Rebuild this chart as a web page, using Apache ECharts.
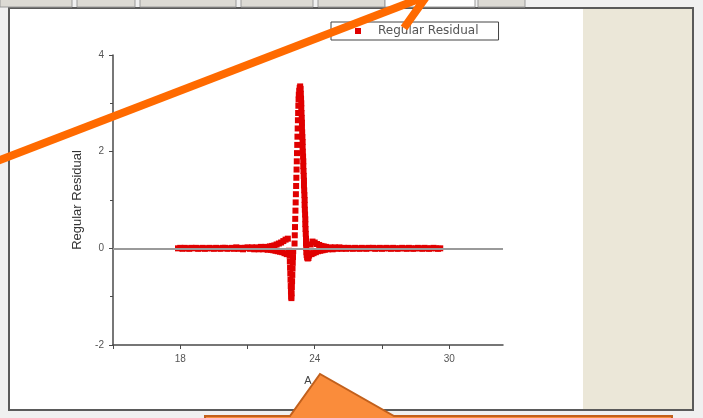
<!DOCTYPE html>
<html>
<head>
<meta charset="utf-8">
<script src="https://cdn.jsdelivr.net/npm/echarts@6/dist/echarts.min.js"></script>
<style>html,body{margin:0;padding:0;background:#f0f0f0}#c{width:703px;height:418px}</style>
</head>
<body>
<div id="c"></div>
<script>
// ---- data (x, regular residual) ----
const seriesName = 'Regular Residual';
const xTickLabels = [18, 24, 30];
const yTickLabels = [-2, 0, 2, 4];
const leftTail = [[17.9,0.00],[18.0,0.01],[18.1,-0.01],[18.2,0.01],[18.3,0.00],[18.4,-0.01],[18.5,0.01],[18.6,0.00],[18.7,0.01],[18.8,-0.01],[18.9,0.00],[19.0,0.01],[19.1,-0.01],[19.2,0.00],[19.3,0.01],[19.4,0.00],[19.5,-0.01],[19.6,0.01],[19.7,0.00],[19.8,-0.01],[19.9,0.01],[20.0,0.01],[20.1,-0.01],[20.2,0.00],[20.3,0.01],[20.4,-0.01],[20.5,0.02],[20.6,-0.01],[20.7,0.01],[20.8,-0.02],[20.9,0.01],[21.0,0.02],[21.1,-0.01],[21.2,0.02],[21.3,-0.02],[21.4,0.02],[21.5,-0.02],[21.6,0.03],[21.7,-0.02],[21.8,0.03],[21.9,-0.03],[22.0,0.04]];
const nearPeakLeft = [[22.05,-0.03],[22.1,0.05],[22.15,-0.04],[22.2,0.06],[22.25,-0.05],[22.3,0.08],[22.35,-0.06],[22.4,0.1],[22.45,-0.07],[22.5,0.12],[22.55,-0.08],[22.6,0.15],[22.65,-0.1],[22.7,0.18],[22.75,-0.12],[22.8,0.2],[22.85,-0.05]];
const dip = [[22.88,-0.15],[22.89,-0.27],[22.9,-0.4],[22.91,-0.52],[22.92,-0.65],[22.93,-0.78],[22.94,-0.9],[22.95,-1.0],[22.96,-1.03],[22.97,-0.93],[22.98,-0.8],[22.99,-0.68],[23.0,-0.55],[23.01,-0.42],[23.02,-0.3],[23.03,-0.18],[23.04,-0.06]];
const spikeRise = [[23.1,0.1],[23.11,0.27],[23.12,0.44],[23.13,0.61],[23.14,0.78],[23.15,0.95],[23.16,1.12],[23.17,1.29],[23.18,1.46],[23.19,1.63],[23.2,1.8],[23.21,1.97],[23.22,2.14],[23.23,2.31],[23.24,2.48],[23.25,2.65],[23.26,2.8],[23.27,2.95],[23.28,3.08],[23.29,3.18],[23.31,3.26],[23.33,3.32],[23.35,3.35]];
const spikeFall = [[23.37,3.3],[23.38,3.2],[23.39,3.1],[23.40,3.0],[23.40,2.9],[23.41,2.8],[23.42,2.7],[23.43,2.6],[23.43,2.5],[23.44,2.4],[23.45,2.3],[23.46,2.2],[23.46,2.1],[23.47,2.0],[23.48,1.9],[23.49,1.8],[23.49,1.7],[23.50,1.6],[23.51,1.5],[23.52,1.4],[23.52,1.3],[23.53,1.2],[23.54,1.1],[23.55,1.0],[23.55,0.9],[23.56,0.8],[23.57,0.7],[23.58,0.6],[23.58,0.5],[23.59,0.4],[23.60,0.3],[23.61,0.2],[23.61,0.1],[23.62,0.0],[23.63,-0.08],[23.64,-0.14],[23.66,-0.19],[23.69,-0.21],[23.72,-0.2],[23.75,-0.15]];
const nearPeakRight = [[23.78,-0.1],[23.82,0.08],[23.86,-0.12],[23.9,0.14],[23.95,-0.1],[24.0,0.12],[24.05,-0.08],[24.1,0.09],[24.15,-0.06],[24.2,0.07],[24.25,-0.05],[24.3,0.05],[24.35,-0.04],[24.4,0.04],[24.45,-0.03]];
const rightTail = [[24.5,0.03],[24.6,-0.02],[24.7,0.02],[24.8,-0.02],[24.9,0.02],[25.0,-0.01],[25.1,0.02],[25.2,-0.01],[25.3,0.01],[25.4,-0.01],[25.5,0.01],[25.6,0.00],[25.7,-0.01],[25.8,0.01],[25.9,0.00],[26.0,-0.01],[26.1,0.01],[26.2,0.00],[26.3,-0.01],[26.4,0.01],[26.5,0.00],[26.6,0.01],[26.7,-0.01],[26.8,0.00],[26.9,0.01],[27.0,-0.01],[27.1,0.00],[27.2,0.01],[27.3,0.00],[27.4,-0.01],[27.5,0.01],[27.6,0.00],[27.7,-0.01],[27.8,0.00],[27.9,0.01],[28.0,0.00],[28.1,-0.01],[28.2,0.01],[28.3,0.00],[28.4,-0.01],[28.5,0.00],[28.6,0.01],[28.7,0.00],[28.8,-0.01],[28.9,0.01],[29.0,0.00],[29.1,-0.01],[29.2,0.00],[29.3,0.01],[29.4,0.00],[29.5,-0.01],[29.6,0.00]];

const allPoints = [].concat(leftTail, nearPeakLeft, dip, spikeRise, spikeFall, nearPeakRight, rightTail);

const chart = echarts.init(document.getElementById('c'), null, {renderer: 'canvas'});
const labelFont = {fontFamily: 'Liberation Sans', fontSize: 10, color: '#555'};

chart.setOption({
  backgroundColor: '#f0f0f0',
  animation: false,
  grid: {left: 113, right: 200, top: 55, bottom: 73},
  legend: {
    data: [seriesName], left: 331, top: 22, icon: 'rect', itemWidth: 6, itemHeight: 6,
    borderColor: '#444', borderWidth: 1, backgroundColor: '#fff',
    padding: [3, 20, 3, 24],
    textStyle: {fontFamily: 'DejaVu Sans', fontSize: 12, color: '#555', padding: [0, 0, 0, 12]}
  },
  xAxis: {
    type: 'value', min: 15, max: 32.4, interval: 3,
    name: 'A', nameLocation: 'middle', nameGap: 30,
    nameTextStyle: {fontFamily: 'Liberation Sans', fontSize: 11, color: '#444'},
    axisLine: {onZero: false, lineStyle: {color: '#4a4a4a', width: 1.5}},
    axisTick: {length: 4, lineStyle: {color: '#4a4a4a'}},
    axisLabel: Object.assign({margin: 9, formatter: v => xTickLabels.indexOf(v) >= 0 ? String(v) : '', showMaxLabel: false}, labelFont),
    splitLine: {show: false}
  },
  yAxis: {
    type: 'value', min: -2, max: 4, interval: 2,
    name: seriesName, nameLocation: 'middle', nameGap: 27,
    nameTextStyle: {fontFamily: 'Liberation Sans', fontSize: 13, color: '#333'},
    axisLine: {onZero: false, lineStyle: {color: '#4a4a4a', width: 1.5}},
    axisTick: {length: 4, lineStyle: {color: '#4a4a4a'}},
    minorTick: {show: true, splitNumber: 2, length: 3, lineStyle: {color: '#4a4a4a'}},
    axisLabel: Object.assign({margin: 9, formatter: v => yTickLabels.indexOf(v) >= 0 ? String(v) : ''}, labelFont),
    splitLine: {show: false}
  },
  series: [
    {
      type: 'scatter', name: 'zero', data: [], z: 1, silent: true,
      markLine: {silent: true, symbol: 'none', label: {show: false},
        lineStyle: {color: '#9a9a9a', width: 2, type: 'solid'}, data: [{yAxis: 0}]}
    },
    {
      type: 'scatter', name: seriesName, data: allPoints, z: 3,
      symbol: 'rect', symbolSize: 6,
      itemStyle: {color: '#e00000', opacity: 1}
    }
  ],
  graphic: [
    {type: 'rect', z: -20, shape: {x: 9, y: 8, width: 684, height: 402}, style: {fill: '#ffffff', stroke: '#5a5a5a', lineWidth: 2}},
    {type: 'rect', z: -19, shape: {x: 583, y: 9, width: 109, height: 400}, style: {fill: '#ebe7d8'}},
    {type: 'rect', z: -19, shape: {x: 0, y: -4, width: 72, height: 11}, style: {fill: '#dcdad4', stroke: '#9a9a9a', lineWidth: 1}},
    {type: 'rect', z: -19, shape: {x: 77, y: -4, width: 58, height: 11}, style: {fill: '#dcdad4', stroke: '#9a9a9a', lineWidth: 1}},
    {type: 'rect', z: -19, shape: {x: 140, y: -4, width: 96, height: 11}, style: {fill: '#dcdad4', stroke: '#9a9a9a', lineWidth: 1}},
    {type: 'rect', z: -19, shape: {x: 241, y: -4, width: 72, height: 11}, style: {fill: '#dcdad4', stroke: '#9a9a9a', lineWidth: 1}},
    {type: 'rect', z: -19, shape: {x: 318, y: -4, width: 67, height: 11}, style: {fill: '#dcdad4', stroke: '#9a9a9a', lineWidth: 1}},
    {type: 'rect', z: -19, shape: {x: 385, y: -4, width: 90, height: 11}, style: {fill: '#ffffff', stroke: '#9a9a9a', lineWidth: 1}},
    {type: 'rect', z: -19, shape: {x: 478, y: -4, width: 47, height: 11}, style: {fill: '#dcdad4', stroke: '#9a9a9a', lineWidth: 1}},
    // annotations
    {type: 'line', z: 100, shape: {x1: -5, y1: 162, x2: 424, y2: -3}, style: {stroke: '#ff6a00', lineWidth: 8}},
    {type: 'polyline', z: 100, shape: {points: [[388, -12], [426, -3], [404, 28]]}, style: {stroke: '#ff6a00', lineWidth: 8, lineJoin: 'miter', fill: null}},
    {type: 'polygon', z: 100, shape: {points: [[205, 416], [290, 416], [320, 374], [394, 416], [672, 416], [672, 425], [205, 425]]}, style: {fill: '#fa8c3b', stroke: '#c2601c', lineWidth: 2}}
  ]
});
</script>
</body>
</html>
